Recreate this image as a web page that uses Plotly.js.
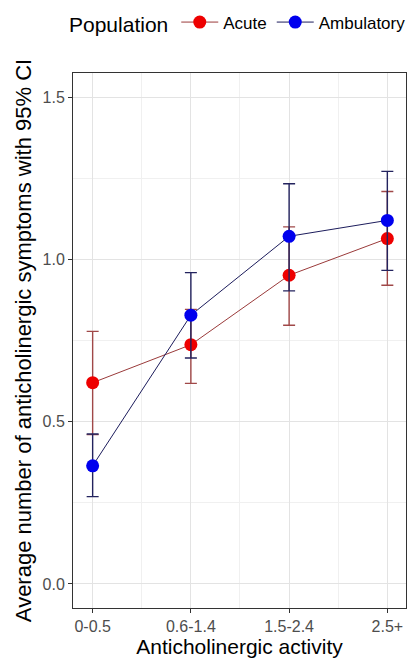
<!DOCTYPE html>
<html>
<head>
<meta charset="utf-8">
<script src="https://cdn.plot.ly/plotly-3.0.1.min.js"></script>
<style>html,body{margin:0;padding:0;background:#fff;}#chart{width:416px;height:661px;}</style>
</head>
<body>
<div id="chart"></div>
<script>
const categories = ["0-0.5", "0.6-1.4", "1.5-2.4", "2.5+"];
const acuteMean = [0.62, 0.737, 0.951, 1.064];
const acuteLower = [0.46, 0.618, 0.797, 0.92];
const acuteUpper = [0.778, 0.846, 1.10, 1.209];
const ambMean = [0.364, 0.828, 1.071, 1.12];
const ambLower = [0.269, 0.696, 0.903, 0.966];
const ambUpper = [0.462, 0.959, 1.233, 1.271];

const xIdx = categories.map((c, i) => i);

function trace(name, mean, lo, hi, markerColor, lineColor, errColor) {
  return {
    type: 'scatter', mode: 'lines+markers', name: name,
    x: xIdx, y: mean,
    line: {color: lineColor, width: 1},
    marker: {color: markerColor, size: 13, line: {width: 0}},
    error_y: {
      type: 'data', symmetric: false,
      array: mean.map((m, i) => hi[i] - m),
      arrayminus: mean.map((m, i) => m - lo[i]),
      color: errColor, thickness: 1.4, width: 6
    }
  };
}

const data = [
  trace('Acute', acuteMean, acuteLower, acuteUpper, '#ee0000', '#9a3a3a', '#a04848'),
  trace('Ambulatory', ambMean, ambLower, ambUpper, '#0000ee', '#1c1c5c', '#23235e')
];

const layout = {
  width: 416, height: 661,
  margin: {l: 73, r: 10, t: 73, b: 53, autoexpand: false},
  paper_bgcolor: '#fff', plot_bgcolor: '#fff',
  font: {family: 'Liberation Sans, Arial, sans-serif', color: '#000'},
  showlegend: true,
  legend: {
    orientation: 'h', x: -0.018, xanchor: 'left', y: 1.128, yanchor: 'top',
    title: {text: 'Population', font: {size: 21, color: '#000'}},
    font: {size: 17, color: '#000'},
    itemwidth: 37, traceorder: 'normal'
  },
  xaxis: {
    range: [-0.2, 3.19],
    tickmode: 'array', tickvals: xIdx, ticktext: categories,
    tickfont: {size: 16, color: '#4d4d4d'},
    ticks: 'outside', ticklen: 4, tickcolor: '#333',
    showline: true, linecolor: '#333', linewidth: 1, mirror: true,
    showgrid: true, gridcolor: '#e3e3e3', gridwidth: 1,
    minor: {dtick: 0.5, tick0: 0.5, showgrid: true, gridcolor: '#f0f0f0', ticks: ''},
    zeroline: false,
    title: {text: 'Anticholinergic activity', font: {size: 21, color: '#000'}, standoff: 2}
  },
  yaxis: {
    range: [-0.074, 1.574],
    tickvals: [0, 0.5, 1.0, 1.5], ticktext: ['0.0', '0.5', '1.0', '1.5'],
    tickfont: {size: 16, color: '#4d4d4d'},
    ticks: 'outside', ticklen: 4, tickcolor: '#333',
    showline: true, linecolor: '#333', linewidth: 1, mirror: true,
    showgrid: true, gridcolor: '#e3e3e3', gridwidth: 1,
    minor: {dtick: 0.25, tick0: 0.25, showgrid: true, gridcolor: '#f0f0f0', ticks: ''},
    zeroline: false,
    title: {text: 'Average number of anticholinergic symptoms with 95% CI', font: {size: 22, color: '#000'}, standoff: 4}
  }
};

Plotly.newPlot('chart', data, layout, {displayModeBar: false, staticPlot: true});
</script>
</body>
</html>
